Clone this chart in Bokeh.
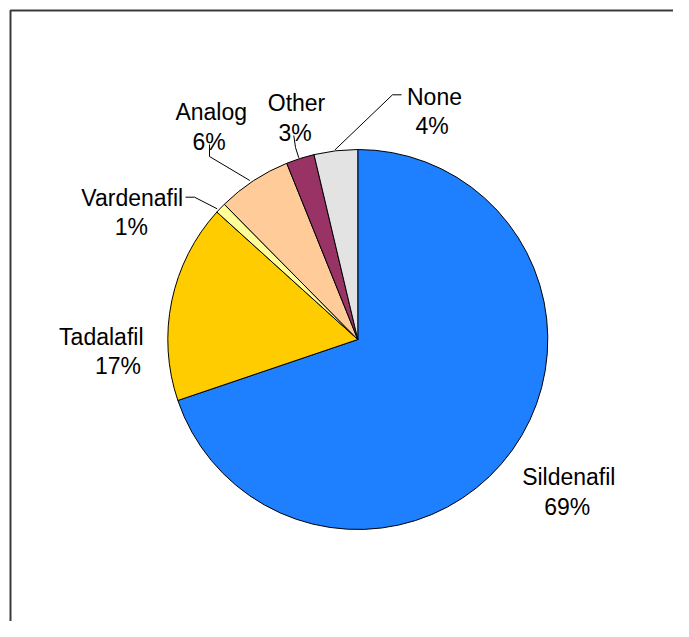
import numpy as np
from bokeh.plotting import figure
from bokeh.models import Range1d, ColumnDataSource
from bokeh.core.properties import value
from bokeh.embed import file_html
from bokeh.resources import INLINE

# ---- data (clockwise from 12 o'clock) ----
categories = ["Sildenafil", "Tadalafil", "Vardenafil", "Analog", "Other", "None"]
shares = [69.8, 16.9, 0.9, 6.3, 2.4, 3.7]
pct_labels = ["69%", "17%", "1%", "6%", "3%", "4%"]
colors = ["#1E7FFF", "#FFCC00", "#FFFF99", "#FFCC99", "#993366", "#E3E3E3"]

# ---- layout (pixel coordinates of the picture; y grows downward) ----
W, H = 673, 621
cx, cy, R = 357.3, 339.0, 190.0
label_pos = {
    "Sildenafil": (568.3, 476.7, 566.7, 506.0),
    "Tadalafil": (100.8, 336.0, 117.5, 365.7),
    "Vardenafil": (131.8, 197.3, 130.8, 226.7),
    "Analog": (210.7, 111.7, 208.7, 141.7),
    "Other": (296.0, 102.7, 294.5, 132.3),
    "None": (434.0, 96.0, 431.7, 125.0),
}
leaders = {
    "Vardenafil": [(185, 196.7), (194, 196.7), (216.7, 208.3)],
    "Analog": [(209, 144), (209, 156), (249.3, 180)],
    "Other": [(293.3, 135), (295, 147), (298.3, 157.3)],
    "None": [(401, 94.3), (392, 94.3), (334.5, 149.3)],
}

p = figure(width=W, height=H, output_backend="svg", toolbar_location=None,
           x_range=Range1d(0, W), y_range=Range1d(-H, 0),
           min_border=0, outline_line_color=None)
p.axis.visible = False
p.grid.visible = False
p.background_fill_color = "white"
p.border_fill_color = "white"

# chart-area border: its right and bottom edges lie beyond the picture
p.quad(left=[10], right=[W + 60], top=[-10], bottom=[-H - 60],
       fill_color=None, line_color="#3a3a3a", line_width=2)

total = float(sum(shares))
cum = np.cumsum([0] + shares) / total
start = np.pi / 2 - 2 * np.pi * cum[:-1]
end = np.pi / 2 - 2 * np.pi * cum[1:]
src = ColumnDataSource(dict(cat=categories, start=start, end=end, color=colors))
p.wedge(x=cx, y=-cy, radius=R, start_angle="start", end_angle="end",
        direction="clock", fill_color="color", line_color="black",
        line_width=1, source=src)

xs = [[pt[0] for pt in leaders[k]] for k in leaders]
ys = [[-pt[1] for pt in leaders[k]] for k in leaders]
p.multi_line(xs, ys, line_color="black", line_width=1)

tx, ty, tt = [], [], []
for c, pl in zip(categories, pct_labels):
    a = label_pos[c]
    tx += [a[0], a[2]]
    ty += [-a[1], -a[3]]
    tt += [c, pl]
p.text(x=tx, y=ty, text=tt, text_font=value("Liberation Sans"),
       text_font_size="23px", text_align="center", text_baseline="alphabetic",
       text_color="black")

open("out.html", "w").write(file_html(p, INLINE))
